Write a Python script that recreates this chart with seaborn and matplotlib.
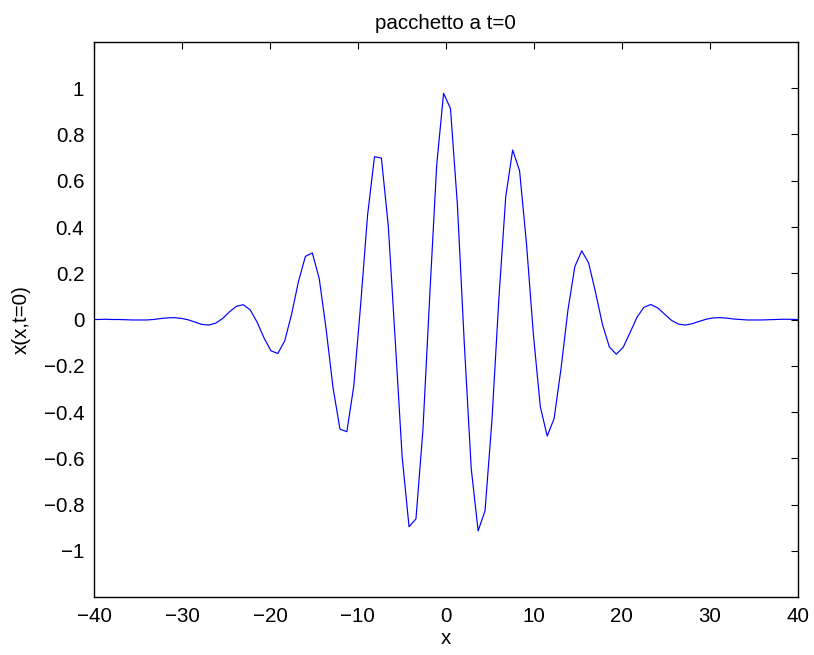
import numpy as np
import pandas as pd
import matplotlib
matplotlib.use("Agg")
import matplotlib.pyplot as plt
import seaborn as sns

x_first, x_last, n_points = -40.315, 40.581, 104

# packet values, one per sample
packet = [
    0.000, 0.000, 0.001, 0.000, -0.000, -0.001, -0.002, -0.002, -0.002, 0.000,
    0.004, 0.007, 0.008, 0.005, -0.001, -0.011, -0.021, -0.024, -0.016, 0.004,
    0.033, 0.057, 0.064, 0.042, -0.011, -0.079, -0.135, -0.147, -0.093, 0.023,
    0.165, 0.273, 0.288, 0.177, -0.042, -0.295, -0.474, -0.485, -0.288, 0.066,
    0.452, 0.704, 0.698, 0.403, -0.090, -0.593, -0.896, -0.862, -0.482, 0.104,
    0.667, 0.978, 0.912, 0.495, -0.104, -0.644, -0.914, -0.827, -0.435, 0.088,
    0.532, 0.733, 0.643, 0.328, -0.065, -0.377, -0.504, -0.428, -0.212, 0.041,
    0.229, 0.297, 0.244, 0.117, -0.022, -0.119, -0.150, -0.120, -0.056, 0.010,
    0.053, 0.065, 0.050, 0.023, -0.004, -0.020, -0.024, -0.018, -0.008, 0.001,
    0.007, 0.008, 0.006, 0.002, -0.000, -0.002, -0.002, -0.002, -0.001, 0.000,
    0.001, 0.001, 0.000, 0.000,
]

xticks = [-40, -30, -20, -10, 0, 10, 20, 30, 40]
yticks = [-1, -0.8, -0.6, -0.4, -0.2, 0, 0.2, 0.4, 0.6, 0.8, 1]
ytick_labels = ['\u22121', '\u22120.8', '\u22120.6', '\u22120.4', '\u22120.2', '0',
                '0.2', '0.4', '0.6', '0.8', '1']

df = pd.DataFrame({'x': np.linspace(x_first, x_last, n_points), 'y': packet})

sns.set_style("white")
plt.rcParams['font.family'] = ['Liberation Sans', 'DejaVu Sans']
plt.rcParams['text.color'] = 'black'
plt.rcParams['axes.labelcolor'] = 'black'
plt.rcParams['xtick.color'] = 'black'
plt.rcParams['ytick.color'] = 'black'

fig = plt.figure(figsize=(8.14, 6.55), dpi=100)
ax = fig.add_axes([0.1155, 0.0885, 0.8645, 0.8474])

sns.lineplot(data=df, x='x', y='y', color='#0000ff', linewidth=0.85,
             estimator=None, sort=False, ax=ax)

ax.set_xlim(-40, 40)
ax.set_ylim(-1.2, 1.2)
ax.set_xticks(xticks)
ax.set_yticks(yticks)
ax.set_yticklabels(ytick_labels)

for side in ['top', 'bottom', 'left', 'right']:
    ax.spines[side].set_visible(True)
    ax.spines[side].set_color('black')
    ax.spines[side].set_linewidth(1.0)

ax.tick_params(direction='in', length=5, width=0.8, colors='black',
               top=True, right=True, labelsize=14.8, pad=7)

ax.set_title('pacchetto a t=0', fontsize=14.8, pad=9, color='black')
ax.set_xlabel('x', fontsize=14.8, labelpad=2)
ax.set_ylabel('x(x,t=0)', fontsize=14.8, labelpad=9)

fig.savefig('out.png', dpi=100)
